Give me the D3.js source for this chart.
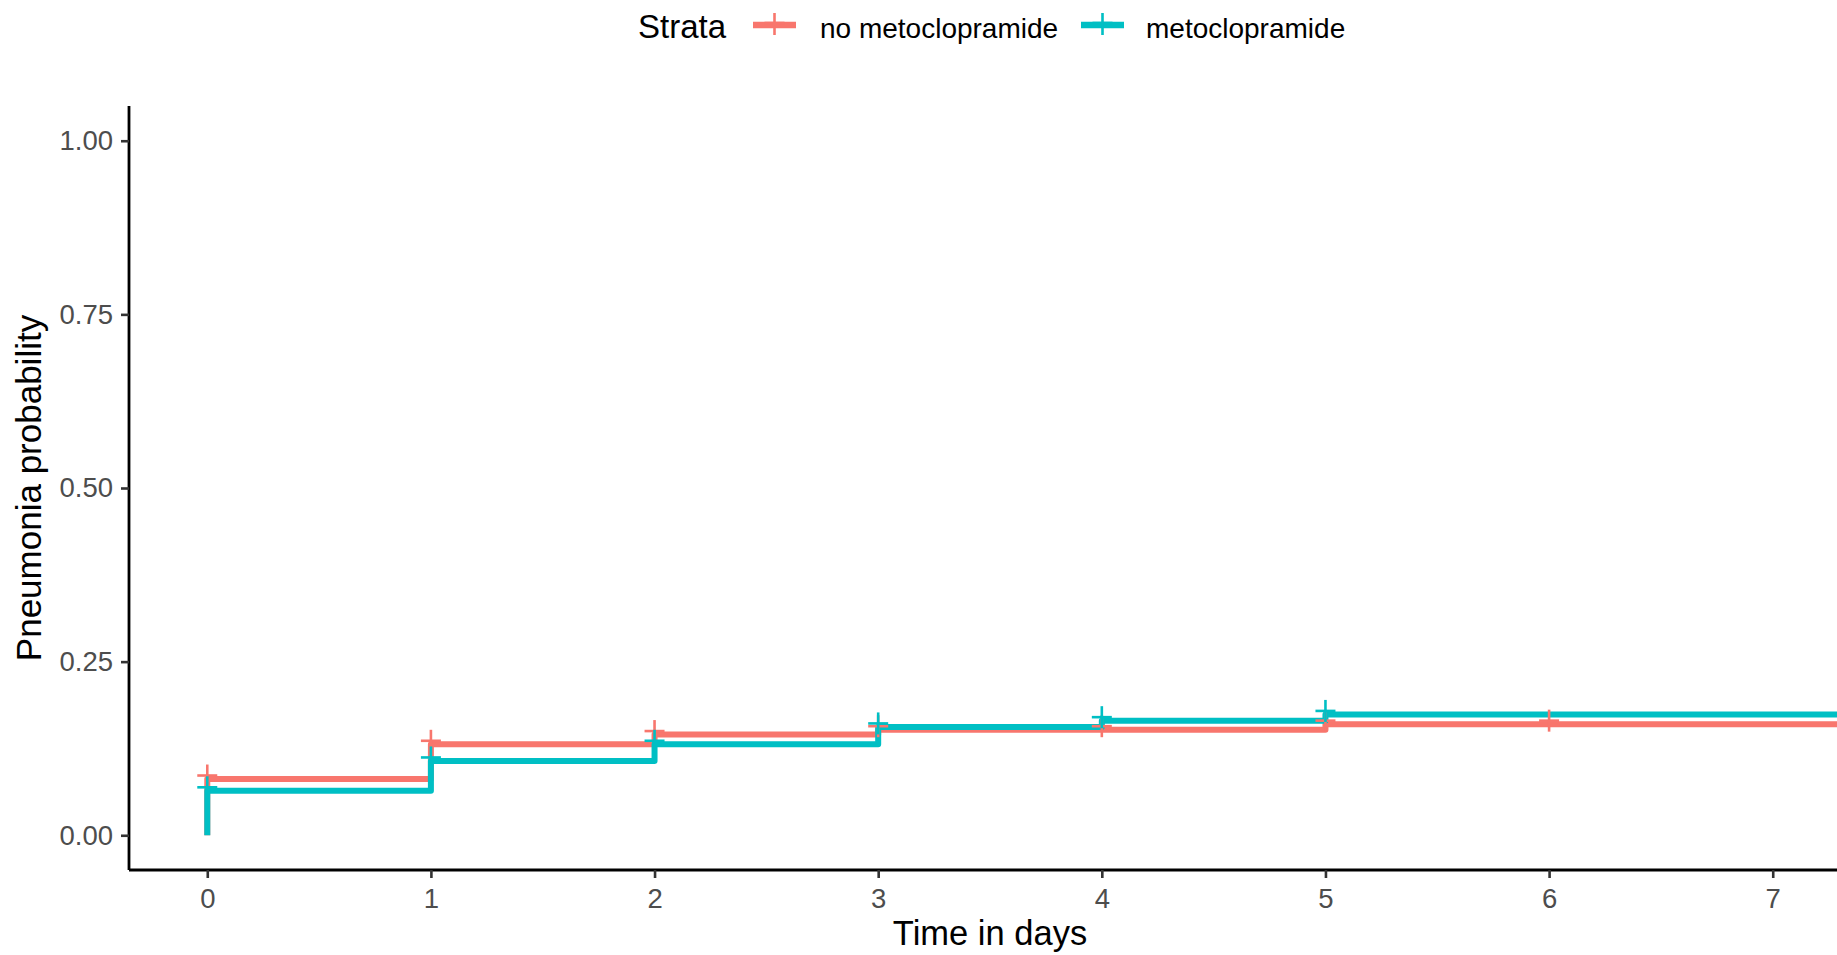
<!DOCTYPE html>
<html>
<head>
<meta charset="utf-8">
<script src="https://cdn.jsdelivr.net/npm/d3@7"></script>
<style>
  body { margin: 0; background: #fff; }
  svg { display: block; font-family: "Liberation Sans", Arial, sans-serif; }
</style>
</head>
<body>
<svg width="1837" height="955"></svg>
<script>
// data
const strata = ["no metoclopramide", "metoclopramide"];
const colors = ["#F8766D", "#00BFC4"];
const stepTimes = [0, 1, 2, 3, 4, 5, 10];
const noMetoValues = [0.081, 0.131, 0.145, 0.152, 0.152, 0.160, 0.160];
const metoValues = [0.064, 0.107, 0.131, 0.156, 0.165, 0.174, 0.174];
const noMetoCensor = [0, 1, 2, 3, 4, 5, 6];
const metoCensor = [0, 1, 2, 3, 4, 5];
const xTicks = [0, 1, 2, 3, 4, 5, 6, 7];
const yTicks = [0, 0.25, 0.5, 0.75, 1];

const svg = d3.select("svg");
const panel = { left: 129, top: 106, right: 1851, bottom: 870 };

const x = d3.scaleLinear().domain([-0.35, 7.35]).range([panel.left, panel.right]);
const y = d3.scaleLinear().domain([-0.05, 1.05]).range([panel.bottom, panel.top]);

svg.append("clipPath").attr("id", "clip")
  .append("rect")
  .attr("x", panel.left).attr("y", panel.top)
  .attr("width", panel.right - panel.left).attr("height", panel.bottom - panel.top);

// value at time t for a step function
function valueAt(values, t) {
  let v = values[0];
  stepTimes.forEach((s, i) => { if (s <= t) v = values[i]; });
  return v;
}

const series = [
  { values: noMetoValues, censor: noMetoCensor, color: colors[0] },
  { values: metoValues, censor: metoCensor, color: colors[1] }
];

const line = d3.line().curve(d3.curveStepAfter).x(d => x(d[0])).y(d => y(d[1]));
const plot = svg.append("g").attr("clip-path", "url(#clip)");

series.forEach(s => {
  const pts = [[0, 0]].concat(stepTimes.map((t, i) => [t, s.values[i]]));
  plot.append("path")
    .datum(pts)
    .attr("d", line)
    .attr("fill", "none")
    .attr("stroke", s.color)
    .attr("stroke-width", 6)
    .attr("stroke-linejoin", "round");
});

// censor marks
series.forEach(s => {
  const g = plot.append("g").attr("stroke", s.color).attr("stroke-width", 2.6);
  s.censor.forEach(t => {
    const cx = x(t), cy = y(valueAt(s.values, t)) - 3.5;
    g.append("line").attr("x1", cx - 10).attr("x2", cx + 10).attr("y1", cy).attr("y2", cy);
    g.append("line").attr("x1", cx).attr("x2", cx).attr("y1", cy - 11).attr("y2", cy + 11);
  });
});

// axes
const yAxis = svg.append("g")
  .attr("transform", `translate(${panel.left},0)`)
  .call(d3.axisLeft(y).tickValues(yTicks).tickFormat(d3.format(".2f")).tickSize(8).tickPadding(8));
const xAxis = svg.append("g")
  .attr("transform", `translate(0,${panel.bottom})`)
  .call(d3.axisBottom(x).tickValues(xTicks).tickFormat(d3.format("d")).tickSize(8).tickPadding(10));

[xAxis, yAxis].forEach(a => {
  a.select(".domain").attr("stroke", "#000").attr("stroke-width", 2.8);
  a.selectAll(".tick line").attr("stroke", "#333").attr("stroke-width", 2.6);
  a.selectAll(".tick text").attr("fill", "#4D4D4D").style("font-size", "27.5px");
});
yAxis.select(".domain").attr("d", `M0,${panel.top}V${panel.bottom}`);
xAxis.select(".domain").attr("d", `M${panel.left},0H${panel.right}`);

svg.append("text")
  .attr("x", (panel.left + panel.right) / 2).attr("y", 945)
  .attr("text-anchor", "middle").style("font-size", "34.5px")
  .text("Time in days");

svg.append("text")
  .attr("transform", `translate(41,${y(0.5)}) rotate(-90)`)
  .attr("text-anchor", "middle").style("font-size", "35px")
  .text("Pneumonia probability");

// legend
const legend = svg.append("g");
legend.append("text").attr("x", 638).attr("y", 38).style("font-size", "33px").text("Strata");
const keyX = [753, 1081];
const labelX = [820, 1146];
strata.forEach((name, i) => {
  const k = legend.append("g").attr("stroke", colors[i]);
  k.append("line").attr("x1", keyX[i]).attr("x2", keyX[i] + 43).attr("y1", 25).attr("y2", 25).attr("stroke-width", 6.5);
  const cx = keyX[i] + 21.5;
  k.append("line").attr("x1", cx - 10).attr("x2", cx + 10).attr("y1", 23).attr("y2", 23).attr("stroke-width", 2.6);
  k.append("line").attr("x1", cx).attr("x2", cx).attr("y1", 13).attr("y2", 35).attr("stroke-width", 2.6);
  legend.append("text").attr("x", labelX[i]).attr("y", 38).style("font-size", "28px").text(name);
});
</script>
</body>
</html>
